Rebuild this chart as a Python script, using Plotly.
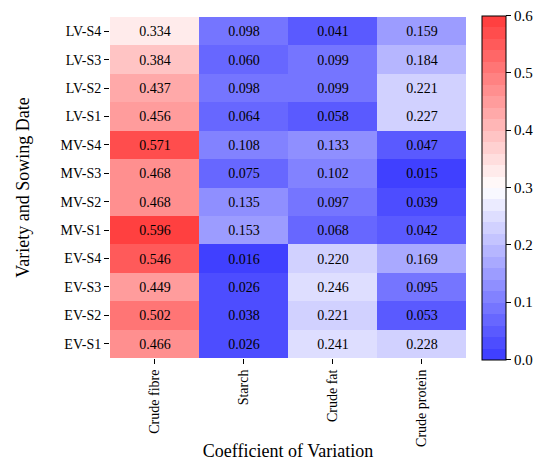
import plotly.graph_objects as go

rows = ["EV-S1", "EV-S2", "EV-S3", "EV-S4", "MV-S1", "MV-S2", "MV-S3", "MV-S4",
        "LV-S1", "LV-S2", "LV-S3", "LV-S4"]
cols = ["Crude fibre", "Starch", "Crude fat", "Crude protein"]
crude_fibre = [0.466, 0.502, 0.449, 0.546, 0.596, 0.468, 0.468, 0.571, 0.456, 0.437, 0.384, 0.334]
starch = [0.026, 0.038, 0.026, 0.016, 0.153, 0.135, 0.075, 0.108, 0.064, 0.098, 0.060, 0.098]
crude_fat = [0.241, 0.221, 0.246, 0.220, 0.068, 0.097, 0.102, 0.133, 0.058, 0.099, 0.099, 0.041]
crude_protein = [0.228, 0.053, 0.095, 0.169, 0.042, 0.039, 0.015, 0.047, 0.227, 0.221, 0.184, 0.159]
cbar_ticks = [0.0, 0.1, 0.2, 0.3, 0.4, 0.5, 0.6]

z = [[crude_fibre[i], starch[i], crude_fat[i], crude_protein[i]] for i in range(len(rows))]

# discrete bwr colormap, 30 levels, blended with white (alpha ~0.75)
N = 30
alpha = 0.75
def bwr(t):
    if t <= 0.5:
        r = g = 2 * t
        b = 1.0
    else:
        r = 1.0
        g = b = 2 * (1 - t)
    return r, g, b

colorscale = []
for i in range(N):
    r, g, b = bwr(i / (N - 1))
    rr = round(255 * (1 - alpha + alpha * r))
    gg = round(255 * (1 - alpha + alpha * g))
    bb = round(255 * (1 - alpha + alpha * b))
    c = f"rgb({rr},{gg},{bb})"
    colorscale.append([i / N, c])
    colorscale.append([(i + 1) / N, c])

font_family = "Liberation Serif, Times New Roman, serif"
zmin, zmax = 0.0, 0.6
# nudge end ticks inside the range so plotly does not drop them
tick_pos = [min(max(v, zmin + 1e-4), zmax - 1e-4) for v in cbar_ticks]

fig = go.Figure(go.Heatmap(
    z=z, x=cols, y=rows,
    zmin=zmin, zmax=zmax,
    colorscale=colorscale,
    texttemplate="%{z:.3f}",
    textfont=dict(family=font_family, size=14, color="black"),
    colorbar=dict(
        x=1.045, xanchor="left", xref="paper",
        y=0.5, yanchor="middle", len=1.01, lenmode="fraction",
        thickness=24, outlinewidth=1, outlinecolor="black",
        xpad=0, ypad=0,
        tickvals=tick_pos, ticktext=[f"{v:.1f}" for v in cbar_ticks],
        ticks="outside", ticklen=5, tickcolor="black",
        tickfont=dict(family=font_family, size=15, color="black"),
    ),
    xgap=0, ygap=0,
))

fig.update_layout(
    width=537, height=461,
    margin=dict(l=110, r=71, t=17, b=103, autoexpand=False),
    paper_bgcolor="white", plot_bgcolor="white",
    font=dict(family=font_family, color="black"),
    xaxis=dict(
        title=dict(text="Coefficient of Variation", font=dict(size=18), standoff=6),
        tickangle=-90, ticks="outside", ticklen=5, tickcolor="black",
        tickfont=dict(size=14), showgrid=False, zeroline=False, showline=False,
    ),
    yaxis=dict(
        title=dict(text="Variety and Sowing Date", font=dict(size=18), standoff=26),
        ticks="outside", ticklen=5, tickcolor="black",
        tickfont=dict(size=14), showgrid=False, zeroline=False, showline=False,
    ),
)

fig.write_html(
    "out.html",
    config={"displayModeBar": False},
    post_script="document.body.style.margin='0';document.body.style.overflow='hidden';",
)
